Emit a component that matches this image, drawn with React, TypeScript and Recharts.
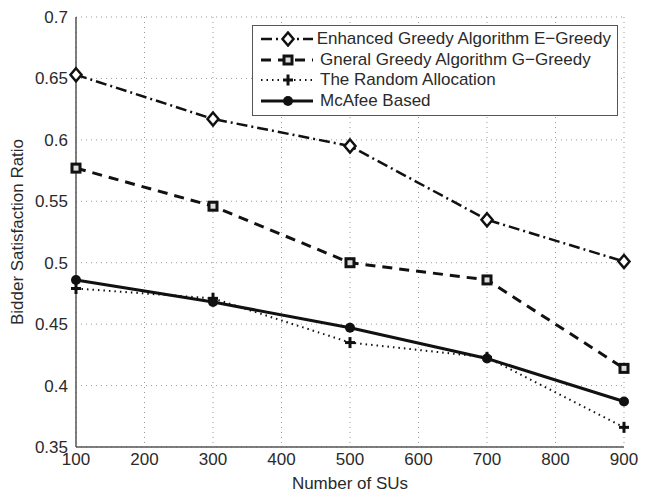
import React from 'react';
import { LineChart, Line, XAxis, YAxis, CartesianGrid, Legend } from 'recharts';

const sus = [100, 300, 500, 700, 900];
const eGreedy = [0.653, 0.617, 0.595, 0.535, 0.501];
const gGreedy = [0.577, 0.546, 0.5, 0.486, 0.414];
const randomAlloc = [0.479, 0.471, 0.435, 0.423, 0.366];
const mcafee = [0.486, 0.468, 0.447, 0.422, 0.387];

const xTicks = [100, 200, 300, 400, 500, 600, 700, 800, 900];
const yTicks = [0.35, 0.4, 0.45, 0.5, 0.55, 0.6, 0.65, 0.7];

const seriesNames = [
  'Enhanced Greedy Algorithm E\u2212Greedy',
  'Gneral Greedy Algorithm G\u2212Greedy',
  'The Random Allocation',
  'McAfee Based',
];

const data = sus.map((n, i) => ({
  n,
  e: eGreedy[i],
  g: gGreedy[i],
  r: randomAlloc[i],
  m: mcafee[i],
}));

const FONT = '"Liberation Sans", Arial, Helvetica, sans-serif';
const INK = '#111';
const AXIS = '#555';
const TEXT = '#2a2a2a';

type MarkerProps = { cx?: number; cy?: number };

const Diamond = ({ cx = 0, cy = 0 }: MarkerProps) => (
  <path
    d={`M${cx},${cy - 6.5} L${cx + 5.5},${cy} L${cx},${cy + 6.5} L${cx - 5.5},${cy} Z`}
    fill="#fff"
    stroke={INK}
    strokeWidth={2.5}
  />
);

const Square = ({ cx = 0, cy = 0 }: MarkerProps) => (
  <rect x={cx - 4} y={cy - 4} width={8} height={8} fill="#ddd" stroke={INK} strokeWidth={3} />
);

const Plus = ({ cx = 0, cy = 0 }: MarkerProps) => (
  <g stroke={INK} strokeWidth={3}>
    <line x1={cx - 5} y1={cy} x2={cx + 5} y2={cy} />
    <line x1={cx} y1={cy - 5.5} x2={cx} y2={cy + 5.5} />
  </g>
);

const Dot = ({ cx = 0, cy = 0 }: MarkerProps) => <circle cx={cx} cy={cy} r={5} fill={INK} />;

const styles = [
  { key: 'e', dash: '11 4 2 4', width: 2.5, Marker: Diamond },
  { key: 'g', dash: '10 7', width: 3, Marker: Square },
  { key: 'r', dash: '1.5 4', width: 2, Marker: Plus },
  { key: 'm', dash: undefined, width: 3, Marker: Dot },
];

const fmt = (v: number) => String(Number(v.toFixed(2)));

const LegendBox = () => (
  <div
    style={{
      border: `1.5px solid ${AXIS}`,
      background: '#fff',
      padding: '3px 6px 4px 6px',
      fontFamily: FONT,
      fontSize: 17,
      color: TEXT,
      whiteSpace: 'nowrap',
    }}
  >
    {styles.map((s, i) => (
      <div key={s.key} style={{ display: 'flex', alignItems: 'center', height: 20.5 }}>
        <svg width={58} height={16} style={{ marginRight: 3 }}>
          <line x1={2} y1={8} x2={54} y2={8} stroke={INK} strokeWidth={s.width} strokeDasharray={s.dash} />
          <s.Marker cx={29} cy={8} />
        </svg>
        <span>{seriesNames[i]}</span>
      </div>
    ))}
  </div>
);

const tickStyle = { fontSize: 17, fill: TEXT, fontFamily: FONT };
const hiddenTick = { fill: 'none', fontSize: 1 };

export default function App() {
  return (
    <div style={{ position: 'absolute', left: 0, top: 0, background: '#fff' }}>
      <LineChart width={653} height={492} data={data} margin={{ top: 17, right: 29, bottom: 0, left: 0 }}>
        <CartesianGrid stroke="#999" strokeDasharray="1 4" />
        <XAxis
          dataKey="n"
          type="number"
          domain={[100, 900]}
          ticks={xTicks}
          height={45}
          tickLine={false}
          axisLine={{ stroke: AXIS, strokeWidth: 1.5 }}
          tick={tickStyle}
          tickMargin={0}
          label={{ value: 'Number of SUs', position: 'insideBottom', offset: 3, style: { fontSize: 17, fill: TEXT, fontFamily: FONT } }}
        />
        <YAxis
          type="number"
          domain={[0.35, 0.7]}
          ticks={yTicks}
          width={76}
          tickFormatter={fmt}
          tickLine={false}
          axisLine={{ stroke: AXIS, strokeWidth: 1.5 }}
          tick={tickStyle}
          allowDataOverflow
          label={{
            value: 'Bidder Satisfaction Ratio',
            angle: -90,
            position: 'insideLeft',
            offset: 17,
            style: { textAnchor: 'middle', fontSize: 17, fill: TEXT, fontFamily: FONT },
          }}
        />
        <XAxis xAxisId="bm" type="number" domain={[100, 900]} ticks={xTicks} orientation="bottom" mirror tickSize={5} tick={hiddenTick} axisLine={false} tickLine={{ stroke: AXIS }} height={0} />
        <XAxis xAxisId="top" type="number" domain={[100, 900]} ticks={xTicks} orientation="top" mirror tickSize={5} tick={hiddenTick} axisLine={{ stroke: AXIS, strokeWidth: 1.5 }} tickLine={{ stroke: AXIS }} height={0} />
        <YAxis yAxisId="lm" type="number" domain={[0.35, 0.7]} ticks={yTicks} orientation="left" mirror tickSize={5} tick={hiddenTick} axisLine={false} tickLine={{ stroke: AXIS }} width={0} />
        <YAxis yAxisId="right" type="number" domain={[0.35, 0.7]} ticks={yTicks} orientation="right" mirror tickSize={5} tick={hiddenTick} axisLine={{ stroke: AXIS, strokeWidth: 1.5 }} tickLine={{ stroke: AXIS }} width={0} />
        <Legend
          layout="vertical"
          verticalAlign="middle"
          align="center"
          content={() => <LegendBox />}
          wrapperStyle={{ left: 252, top: 25, width: 366, height: 'auto' }}
        />
        {styles.map((s, i) => (
          <Line
            key={s.key}
            type="linear"
            dataKey={s.key}
            name={seriesNames[i]}
            stroke={INK}
            strokeWidth={s.width}
            strokeDasharray={s.dash}
            dot={(p: any) => <s.Marker key={`${s.key}-${p.index}`} cx={p.cx} cy={p.cy} />}
            activeDot={false}
            isAnimationActive={false}
          />
        ))}
      </LineChart>
    </div>
  );
}
